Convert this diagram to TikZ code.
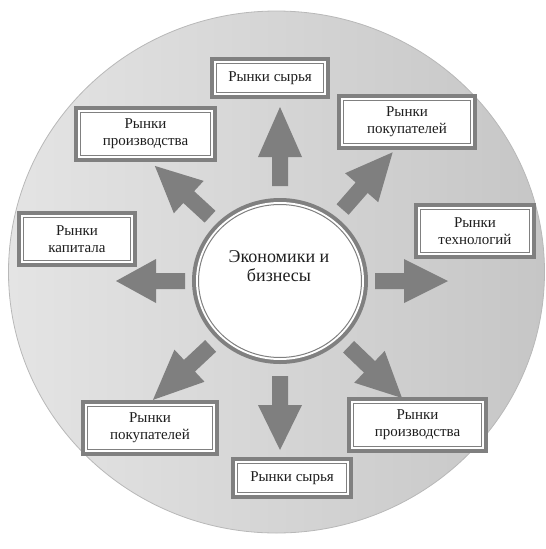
\documentclass[tikz,border=0pt]{standalone}
\usepackage{fontspec}
\setmainfont{Liberation Serif}
\usetikzlibrary{shapes.geometric}
\definecolor{disklight}{HTML}{E4E4E4}
\definecolor{diskdark}{HTML}{C6C6C6}
\definecolor{diskedge}{HTML}{B8B8B8}
\definecolor{framegray}{HTML}{808080}
\definecolor{arrowfill}{HTML}{7F7F7F}
\definecolor{inktext}{HTML}{1E1E1E}
\newcommand\mkarrow[2]{% #1 angle, #2 tip distance
  \begin{scope}[shift={(core.center)}, rotate=#1]
    \fill[arrowfill] (95,-8) -- (124,-8) -- (124,-22) -- (#2,0) -- (124,22) -- (124,8) -- (95,8) -- cycle;
  \end{scope}}
\begin{document}
\begin{tikzpicture}[x=1pt,y=-1pt,
  frame/.style={fill=white, draw=framegray, line width=1pt,
    preaction={draw=framegray, line width=13pt},
    preaction={draw=white, line width=5pt},
    inner sep=0pt, align=center, text=inktext,
    font=\fontsize{15}{17}\selectfont},
  onebox/.style={frame, minimum width=#1, minimum height=29},
  twobox/.style={frame, minimum width=#1, minimum height=43}]
\useasboundingbox (0,0) rectangle (546,549);
% big disk
\shade[left color=disklight, right color=diskdark, draw=diskedge, line width=0.8pt]
  (276.5,272) ellipse [x radius=268, y radius=261];
% central circle
\node[ellipse, fill=white, draw=framegray, line width=1pt,
  preaction={draw=framegray, line width=13pt},
  preaction={draw=white, line width=5pt},
  minimum width=163, minimum height=153, inner sep=0pt] (core) at (280,281) {};
\node[align=center, text=inktext, font=\fontsize{18}{19}\selectfont] (coretext) at (279,266)
  {Экономики и\\бизнесы};
% arrows
\mkarrow{90}{174}
\mkarrow{48.8}{171}
\mkarrow{0}{168}
\mkarrow{-43.8}{169}
\mkarrow{-90}{169}
\mkarrow{-136.9}{174}
\mkarrow{180}{164}
\mkarrow{137.4}{170}
% boxes
\node[onebox=107] (rawtop) at (270,78) {Рынки сырья};
\node[twobox=130] (produl) at (145.5,134) {Рынки\\производства};
\node[twobox=127] (buyur) at (407,121.5) {Рынки\\покупателей};
\node[twobox=107] (capital) at (77,239) {Рынки\\капитала};
\node[twobox=109] (tech) at (475,231) {Рынки\\технологий};
\node[twobox=125] (buyll) at (150,427.5) {Рынки\\покупателей};
\node[onebox=109] (rawbot) at (292,478) {Рынки сырья};
\node[twobox=128] (prodlr) at (417.5,425) {Рынки\\производства};
\end{tikzpicture}
\end{document}
